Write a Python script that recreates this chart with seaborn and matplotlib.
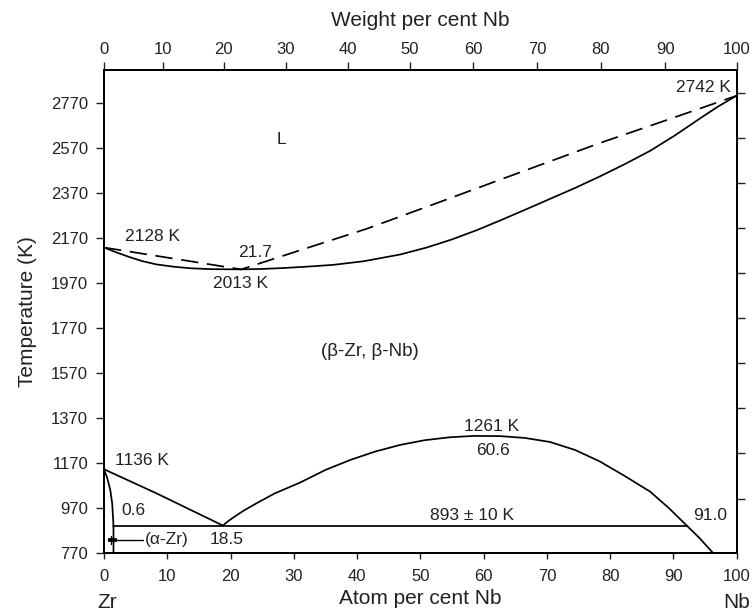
import numpy as np
import pandas as pd
import matplotlib
matplotlib.use("Agg")
import matplotlib.pyplot as plt
import seaborn as sns

# ---------------- data ----------------
# solidus (solid line, upper part)
solidus_x = [0, 2, 4, 6, 8.3, 11, 13.6, 17, 21.7, 25, 28.3, 32, 36.2, 41, 46.8, 51, 55,
             59, 62.6, 66.5, 70.5, 74.5, 78.4, 82.3, 86.3, 90.2, 94.2, 97, 100]
solidus_y = [2127, 2105, 2085, 2067, 2052, 2042, 2035, 2031, 2030, 2032, 2036, 2042, 2050,
             2066, 2096, 2127, 2163, 2205, 2247, 2294, 2343, 2392, 2443, 2497, 2556, 2624,
             2700, 2752, 2801]
# liquidus (dashed line)
liquidus_x = [0, 21.7, 31, 41.5, 52, 62.6, 78.4, 90, 100]
liquidus_y = [2127, 2030, 2115, 2210, 2318, 2428, 2591, 2703, 2801]
# beta-Zr boundary down to monotectoid
bzr_x = [0, 8.3, 18.8]
bzr_y = [1143, 1036, 893]
# miscibility gap
gap_x = [18.8, 19.5, 20.5, 22, 24.1, 27, 31, 35, 38.9, 42.8, 46.8, 50.7, 54.7, 58.5,
         62.6, 66.5, 70.5, 74.5, 78.4, 82.3, 86.3, 89.3, 92.1, 94.2, 96.3]
gap_y = [893, 910, 930, 958, 992, 1036, 1084, 1140, 1184, 1221, 1251, 1272, 1285, 1291,
         1290, 1282, 1264, 1228, 1177, 1113, 1044, 970, 893, 835, 770]
# alpha-Zr solvus
azr_x = [0, 0.5, 1.0, 1.3, 1.5, 1.5]
azr_y = [1143, 1105, 1050, 990, 893, 770]
# monotectoid horizontal
mono_x = [1.5, 92.1]
mono_y = [893, 893]

y_ticks = [770, 970, 1170, 1370, 1570, 1770, 1970, 2170, 2370, 2570, 2770]
x_ticks = [0, 10, 20, 30, 40, 50, 60, 70, 80, 90, 100]
wt_tick_pos = [0, 9.4, 18.9, 28.7, 38.5, 48.3, 58.3, 68.5, 78.5, 88.7, 100]
wt_tick_labels = ["0", "10", "20", "30", "40", "50", "60", "70", "80", "90", "100"]
right_ticks = [1013, 1213, 1413, 1613, 1813, 2013, 2213, 2413, 2613, 2813]

# ---------------- style ----------------
sns.set_theme(style="ticks")
plt.rcParams["font.family"] = ["Liberation Sans", "DejaVu Sans"]
TXT = "#222222"
plt.rcParams["text.color"] = TXT
plt.rcParams["axes.labelcolor"] = TXT

fig = plt.figure(figsize=(7.52, 6.16), dpi=100)
ax = fig.add_axes([0.1383, 0.1018, 0.8414, 0.7846])

LW = 1.25
def line(xs, ys, **kw):
    df = pd.DataFrame({"x": xs, "y": ys})
    sns.lineplot(data=df, x="x", y="y", sort=False, estimator=None,
                 color="black", lw=LW, ax=ax, **kw)

line(solidus_x, solidus_y)
line(liquidus_x, liquidus_y, linestyle=(0, (10, 5)))
line(bzr_x, bzr_y)
line(gap_x, gap_y)
line(azr_x, azr_y)
line(mono_x, mono_y)

# (alpha-Zr) pointer
ax.plot([0.6, 6.2], [829, 829], color="black", lw=1.0)
ax.plot([0.6, 2.0], [829, 829], color="black", lw=2.6, solid_capstyle="butt")
ax.plot([1.1, 1.1], [812, 846], color="black", lw=1.0)

TICK_FS = 12
LAB_FS = 15
ax.set_xlim(0, 100)
ax.set_ylim(770, 2915)
ax.set_xticks(x_ticks)
ax.set_xticklabels([str(t) for t in x_ticks])
ax.set_yticks(y_ticks)
ax.set_yticklabels([str(t) for t in y_ticks])
ax.tick_params(axis="both", direction="out", width=1.0, labelsize=TICK_FS,
               colors="#222222")
ax.tick_params(axis="x", length=4, pad=7)
ax.tick_params(axis="y", length=6, pad=5.5)
ax.set_xlabel("Atom per cent Nb", fontsize=LAB_FS, labelpad=4)
ax.set_ylabel("Temperature (K)", fontsize=LAB_FS, labelpad=10)
for s in ax.spines.values():
    s.set_visible(True)
    s.set_linewidth(1.2)
    s.set_color("black")

# top axis (weight per cent)
axt = ax.twiny()
axt.set_xlim(0, 100)
axt.set_xticks(wt_tick_pos)
axt.set_xticklabels(wt_tick_labels)
axt.tick_params(axis="x", direction="out", length=6, width=1.0, labelsize=TICK_FS,
                pad=3, colors="#222222")
axt.set_xlabel("Weight per cent Nb", fontsize=LAB_FS, labelpad=12)

# right axis ticks (no labels)
axr = ax.twinx()
axr.set_ylim(770, 2915)
axr.set_yticks(right_ticks)
axr.set_yticklabels([])
axr.tick_params(axis="y", direction="out", length=6, width=1.0, colors="#222222")
for a in (axt, axr):
    for s in a.spines.values():
        s.set_linewidth(1.2)
        s.set_color("black")

# element labels
ax.text(0.5, -0.083, "Zr", transform=ax.get_xaxis_transform(), ha="center", va="top",
        fontsize=LAB_FS, color=TXT)
ax.text(100, -0.083, "Nb", transform=ax.get_xaxis_transform(), ha="center", va="top",
        fontsize=LAB_FS, color=TXT)

# annotations
fs = 12.5
ann = [
    (28.1, 2606, "L", "center", fs),
    (99.0, 2837, "2742 K", "right", fs),
    (7.6, 2175, "2128 K", "center", fs),
    (23.9, 2104, "21.7", "center", fs),
    (21.5, 1966, "2013 K", "center", fs),
    (42.0, 1664, "(β-Zr, β-Nb)", "center", 13.5),
    (61.3, 1331, "1261 K", "center", fs),
    (61.5, 1224, "60.6", "center", fs),
    (6.0, 1184, "1136 K", "center", fs),
    (4.6, 962, "0.6", "center", fs),
    (58.2, 936, "893 ± 10 K", "center", fs),
    (95.8, 936, "91.0", "center", fs),
    (6.4, 829, "(α-Zr)", "left", fs),
    (19.4, 829, "18.5", "center", fs),
]
for x, y, t, ha, f in ann:
    ax.text(x, y, t, ha=ha, va="center", fontsize=f, color=TXT)

fig.savefig("out.png", dpi=100)
